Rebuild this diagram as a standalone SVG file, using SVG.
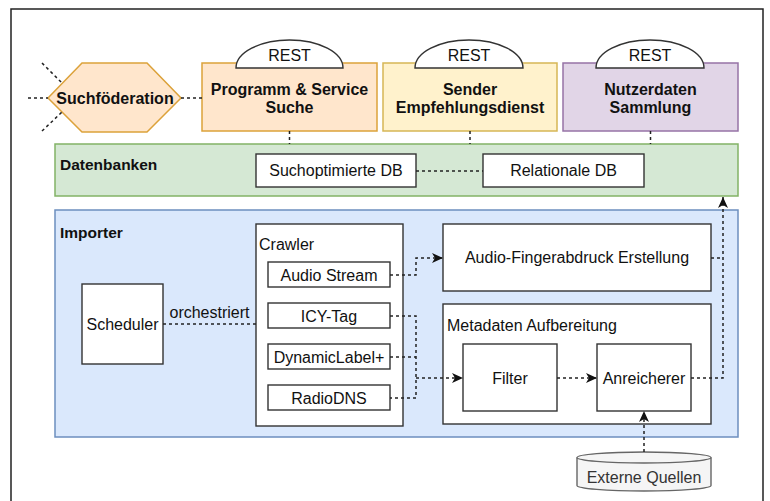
<svg xmlns="http://www.w3.org/2000/svg" width="770" height="501" viewBox="0 0 770 501">
<defs>
<style>
text{font-family:"Liberation Sans",Arial,sans-serif;font-size:16px;fill:#111}
.b{font-weight:bold}
.c{text-anchor:middle}
.box{fill:#fff;stroke:#333;stroke-width:1.4}
.dash{fill:none;stroke:#222;stroke-width:1.5;stroke-dasharray:3 3}
.rest{fill:#fff;stroke:#333;stroke-width:1.4}
</style>
<marker id="arr" markerUnits="userSpaceOnUse" markerWidth="12" markerHeight="10" refX="11" refY="5" orient="auto">
<path d="M0,0 L11,5 L0,10 L3,5 Z" fill="#111"/>
</marker>
</defs>
<rect x="0" y="0" width="770" height="501" fill="#fff"/>
<path d="M11,501 V9 H763 V501" fill="none" stroke="#222" stroke-width="1.5"/>

<g id="datenbanken">
<rect x="55" y="144" width="683" height="52" fill="#d5e8d4" stroke="#82b366" stroke-width="1.5"/>
<text x="60" y="170" class="b" style="font-size:15.5px">Datenbanken</text>
</g>
<g id="suchoptimierte-db">
<rect x="256" y="154" width="160" height="33" class="box"/>
<text x="336" y="176" class="c">Suchoptimierte DB</text>
</g>
<g id="relationale-db">
<rect x="483" y="154" width="161" height="33" class="box"/>
<text x="563.5" y="176" class="c">Relationale DB</text>
</g>

<g id="importer">
<rect x="55" y="210" width="683" height="227" fill="#dae8fc" stroke="#6c8ebf" stroke-width="1.5"/>
<text x="60" y="238" class="b" style="font-size:15.5px">Importer</text>
</g>

<g id="suchfoederation">
<polygon points="48,98 82,63 147,63 181,98 147,132 82,132" fill="#ffe6cc" stroke="#dca23a" stroke-width="1.5"/>
<text x="115" y="104" class="b c">Suchföderation</text>
</g>

<g id="programm-service-suche">
<rect x="202" y="63" width="175" height="68" fill="#ffe6cc" stroke="#dca23a" stroke-width="1.5"/>
<path d="M236,68 A53.5,28 0 0 1 343,68 Z" class="rest"/>
<text x="289.5" y="61" class="c">REST</text>
<text x="289.5" y="95" class="b c">Programm &amp; Service</text>
<text x="289.5" y="113" class="b c">Suche</text>
</g>

<g id="sender-empfehlungsdienst">
<rect x="383" y="63" width="174" height="68" fill="#fff2cc" stroke="#d6b656" stroke-width="1.5"/>
<path d="M415,68 A54,28 0 0 1 523,68 Z" class="rest"/>
<text x="469" y="61" class="c">REST</text>
<text x="470" y="95" class="b c">Sender</text>
<text x="470" y="113" class="b c">Empfehlungsdienst</text>
</g>

<g id="nutzerdaten-sammlung">
<rect x="563" y="63" width="175" height="68" fill="#e1d5e7" stroke="#9673a6" stroke-width="1.5"/>
<path d="M596,68 A54,28 0 0 1 704,68 Z" class="rest"/>
<text x="650" y="61" class="c">REST</text>
<text x="650.5" y="95" class="b c">Nutzerdaten</text>
<text x="650.5" y="113" class="b c">Sammlung</text>
</g>

<g id="scheduler">
<rect x="82" y="284" width="81" height="80" class="box"/>
<text x="122.5" y="330" class="c">Scheduler</text>
</g>

<g id="crawler">
<rect x="256" y="224" width="147" height="202" class="box"/>
<text x="259" y="250">Crawler</text>
</g>
<g id="audio-stream">
<rect x="268" y="262" width="122" height="25" class="box"/>
<text x="329" y="280.5" class="c">Audio Stream</text>
</g>
<g id="icy-tag">
<rect x="268" y="303" width="122" height="25" class="box"/>
<text x="329" y="321.5" class="c">ICY-Tag</text>
</g>
<g id="dynamiclabel">
<rect x="268" y="344" width="122" height="25" class="box"/>
<text x="329" y="362.5" class="c">DynamicLabel+</text>
</g>
<g id="radiodns">
<rect x="268" y="385" width="122" height="25" class="box"/>
<text x="329" y="403.5" class="c">RadioDNS</text>
</g>

<g id="audio-fingerabdruck">
<rect x="443" y="224" width="268" height="67" class="box"/>
<text x="577" y="263" class="c">Audio-Fingerabdruck Erstellung</text>
</g>
<g id="metadaten-aufbereitung">
<rect x="443" y="304" width="268" height="120" class="box"/>
<text x="447" y="331">Metadaten Aufbereitung</text>
</g>
<g id="filter">
<rect x="463" y="344" width="94" height="67" class="box"/>
<text x="510" y="383.5" class="c">Filter</text>
</g>
<g id="anreicherer">
<rect x="597" y="344" width="94" height="67" class="box"/>
<text x="644" y="383.5" class="c">Anreicherer</text>
</g>

<g id="externe-quellen">
<path d="M577,457.5 V485.5 A67,5.5 0 0 0 711,485.5 V457.5" fill="#f5f5f5" stroke="#666" stroke-width="1.4"/>
<ellipse cx="644" cy="457.5" rx="67" ry="5.5" fill="#f5f5f5" stroke="#666" stroke-width="1.4"/>
<text x="644" y="483" class="c" style="fill:#333">Externe Quellen</text>
</g>

<g id="connectors">
<path class="dash" d="M28,98 H48 M42,63 L62,83 M42,131 L62,112 M181,98 H202"/>
<path class="dash" d="M289.5,131 V144 M470,131 V144 M650.5,131 V144 M416,171 H483"/>
<path class="dash" d="M163,324 H256"/>
<text x="209.5" y="318" class="c">orchestriert</text>
<path class="dash" d="M390,275 H416 V258 H443" marker-end="url(#arr)"/>
<path class="dash" d="M390,316 H416 V398 H390 M390,357 H416"/>
<path class="dash" d="M416,378 H463" marker-end="url(#arr)"/>
<path class="dash" d="M557,378 H597" marker-end="url(#arr)"/>
<path class="dash" d="M691,378 H723 V197" marker-end="url(#arr)"/>
<path class="dash" d="M711,258 H723"/>
<path class="dash" d="M644,452 V411" marker-end="url(#arr)"/>
</g>
</svg>
